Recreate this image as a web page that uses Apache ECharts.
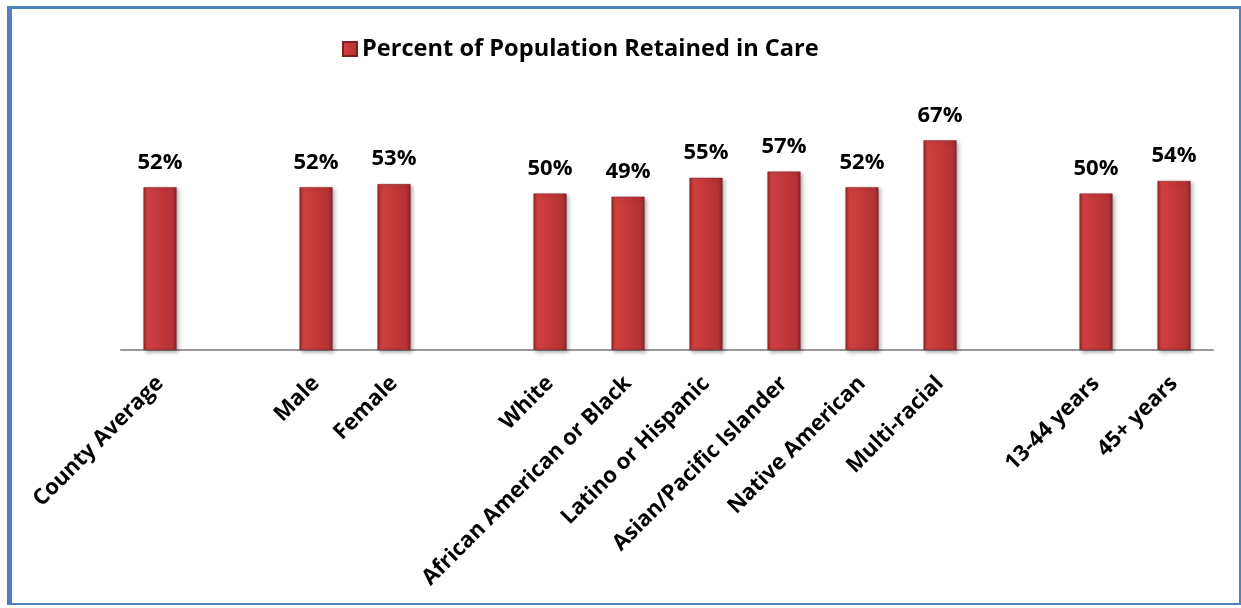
<!DOCTYPE html>
<html>
<head>
<meta charset="utf-8">
<script src="https://cdn.jsdelivr.net/npm/echarts@6/dist/echarts.min.js"></script>
<style>
  html, body { margin: 0; padding: 0; background: #fff; }
  #chart { position: absolute; left: 0; top: 0; width: 1241px; height: 608px; }
  #frame {
    position: absolute; left: 7px; top: 6px; width: 1227px; height: 594px;
    border-left: 5px solid #4F81BD; border-top: 3px solid #4F81BD;
    border-right: 2px solid #4F81BD; border-bottom: 2px solid #4F81BD;
    pointer-events: none;
  }
</style>
</head>
<body>
<div id="chart"></div>
<div id="frame"></div>
<script>
// categories, with blank slots separating the groups
const categories = [
  'County Average', '', 'Male', 'Female', '',
  'White', 'African American or Black', 'Latino or Hispanic',
  'Asian/Pacific Islander', 'Native American', 'Multi-racial', '',
  '13-44 years', '45+ years'
];
const retained = [52, '-', 52, 53, '-', 50, 49, 55, 57, 52, 67, '-', 50, 54];
const seriesName = 'Percent of Population Retained in Care';

const FONT = '"Open Sans", Lato, sans-serif';

const barFill = new echarts.graphic.LinearGradient(0, 0, 1, 0, [
  { offset: 0, color: '#9A2729' },
  { offset: 0.12, color: '#D0403F' },
  { offset: 0.5, color: '#C4383A' },
  { offset: 0.88, color: '#B33235' },
  { offset: 1, color: '#8A2224' }
]);

const chart = echarts.init(document.getElementById('chart'), null, { renderer: 'canvas' });
chart.setOption({
  animation: false,
  backgroundColor: '#fff',
  legend: {
    left: 337,
    top: 32,
    itemWidth: 14,
    itemHeight: 14,
    icon: 'rect',
    textStyle: { fontFamily: FONT, fontWeight: 'bold', fontSize: 23.6, color: '#000' },
    data: [seriesName]
  },
  grid: { left: 121, right: 28, top: 37, bottom: 258 },
  xAxis: {
    type: 'category',
    data: categories,
    axisLine: { lineStyle: { color: '#9A9A9A', width: 2 } },
    axisTick: { show: false },
    axisLabel: {
      interval: 0,
      rotate: 45,
      margin: 30,
      fontFamily: FONT,
      fontWeight: 'bold',
      fontSize: 22,
      color: '#000'
    }
  },
  yAxis: {
    type: 'value',
    min: 0,
    max: 100,
    show: false,
    splitLine: { show: false }
  },
  series: [{
    name: seriesName,
    type: 'bar',
    data: retained,
    barWidth: 33,
    itemStyle: {
      color: barFill,
      borderColor: '#7E1F21',
      borderWidth: 0.5,
      shadowColor: 'rgba(0,0,0,0.35)',
      shadowBlur: 4,
      shadowOffsetX: 2,
      shadowOffsetY: 2
    },
    label: {
      show: true,
      position: 'top',
      distance: 14,
      formatter: '{c}%',
      fontFamily: FONT,
      fontWeight: 'bold',
      fontSize: 22,
      color: '#000'
    }
  }]
});
</script>
</body>
</html>
